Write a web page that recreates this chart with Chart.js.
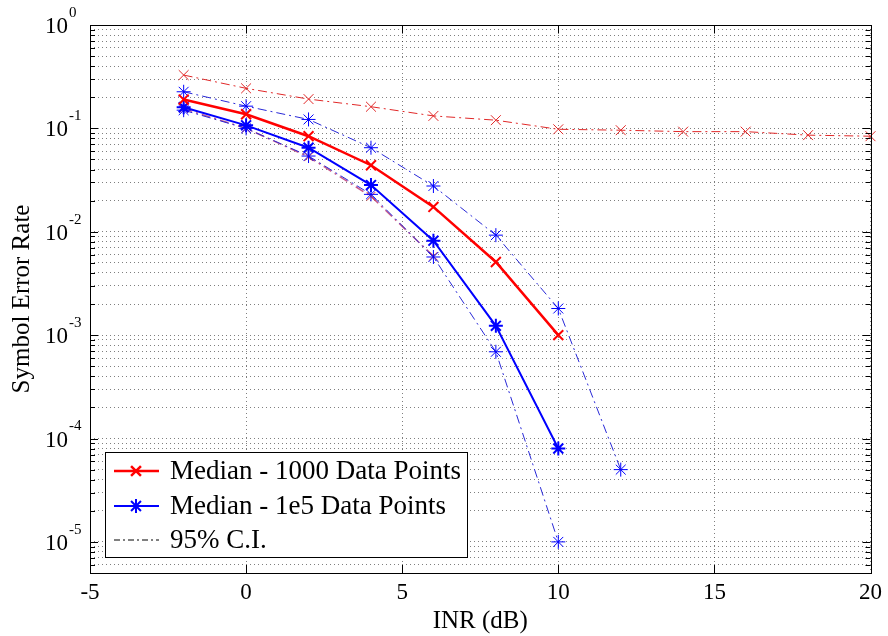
<!DOCTYPE html>
<html>
<head>
<meta charset="utf-8">
<script src="https://cdn.jsdelivr.net/npm/chart.js@4.4.0/dist/chart.umd.min.js"></script>
<style>
    html, body { margin: 0; padding: 0; background: #fff; }
    #wrap { width: 888px; height: 636px; }
</style>
</head>
<body>
<div id="wrap"><canvas id="serChart" width="888" height="636"></canvas></div>
<script>
// INR (dB) for each curve
const inrMedian = [-2, 0, 2, 4, 6, 8, 10]
const inrCi1000Upper = [-2, 0, 2, 4, 6, 8, 10, 12, 14, 16, 18, 20]
const inrCi1000Lower = [-2, 0, 2, 4, 6]
const inrCi1e5Upper = [-2, 0, 2, 4, 6, 8, 10, 12]
const inrCi1e5Lower = [-2, 0, 2, 4, 6, 8, 10]

// symbol error rate
const ser1000 = [0.19, 0.137, 0.084, 0.044, 0.0174, 0.0051, 0.001]
const ser1e5 = [0.16, 0.107, 0.065, 0.0283, 0.0082, 0.00123, 0.00008]
const ci1000Upper = [0.328, 0.244, 0.192, 0.162, 0.132, 0.12, 0.098, 0.096, 0.093, 0.093, 0.086, 0.084]
const ci1000Lower = [0.155, 0.1, 0.053, 0.022, 0.0058]
const ci1e5Upper = [0.226, 0.164, 0.122, 0.065, 0.0277, 0.00927, 0.00181, 0.00005]
const ci1e5Lower = [0.15, 0.1, 0.054, 0.023, 0.0057, 0.00069, 0.00001]

// axes
const xTickVals = [-5, 0, 5, 10, 15, 20]
const yDecades = [-5, -4, -3, -2, -1, 0]
const yMinorSteps = [2, 3, 4, 5, 6, 7, 8, 9]
const yMin = 5e-6
const yMax = 1

const legendLabels = ['Median - 1000 Data Points', 'Median - 1e5 Data Points', '95% C.I.']

const RED = 'rgb(255, 0, 0)'
const BLUE = 'rgb(0, 0, 255)'
const RED_CI = 'rgb(225, 40, 40)'
const BLUE_CI = 'rgb(40, 40, 215)'
const DASH_DOT = [9, 4, 2, 4]
const SERIF = '"Liberation Serif", "Times New Roman", serif'

const toPoints = (xs, ys) => xs.map((x, i) => ({ x: x, y: ys[i] }))

const buildYTicks = () => {
    const vals = []
    for (let p = -6; p <= 0; p++) {
        const base = Math.pow(10, p)
        if (base >= yMin && base <= yMax) vals.push({ value: base, major: true })
        if (p < 0) {
            yMinorSteps.forEach(m => {
                const v = m * base
                if (v >= yMin && v < yMax) vals.push({ value: v, major: false })
            })
        }
    }
    return vals.sort((a, b) => a.value - b.value)
}

const drawMarker = (ctx, style, x, y, r) => {
    const d = r * 0.7071
    ctx.beginPath()
    ctx.moveTo(x - d, y - d); ctx.lineTo(x + d, y + d)
    ctx.moveTo(x + d, y - d); ctx.lineTo(x - d, y + d)
    if (style === 'star') {
        ctx.moveTo(x - r, y); ctx.lineTo(x + r, y)
        ctx.moveTo(x, y - r); ctx.lineTo(x, y + r)
    }
    ctx.stroke()
}

const matlabFrame = {
    id: 'matlabFrame',
    afterDraw(chart) {
        const { ctx, chartArea: a, scales } = chart
        const xs = scales.x
        const ys = scales.y
        ctx.save()
        ctx.setLineDash([])
        ctx.strokeStyle = '#000'
        ctx.lineWidth = 1

        // inward tick marks on all four sides
        ctx.beginPath()
        xTickVals.forEach(v => {
            const px = Math.round(xs.getPixelForValue(v)) + 0.5
            ctx.moveTo(px, a.bottom); ctx.lineTo(px, a.bottom - 8)
            ctx.moveTo(px, a.top); ctx.lineTo(px, a.top + 8)
        })
        ys.ticks.forEach(t => {
            const py = Math.round(ys.getPixelForValue(t.value)) + 0.5
            const len = t.major ? 8 : 5
            ctx.moveTo(a.left, py); ctx.lineTo(a.left + len, py)
            ctx.moveTo(a.right, py); ctx.lineTo(a.right - len, py)
        })
        ctx.stroke()
        ctx.strokeRect(Math.round(a.left) + 0.5, Math.round(a.top) + 0.5,
            Math.round(a.right - a.left), Math.round(a.bottom - a.top))

        // y tick labels as 10 with superscript exponent
        ctx.fillStyle = '#000'
        ctx.textBaseline = 'middle'
        yDecades.forEach(p => {
            const py = ys.getPixelForValue(Math.pow(10, p))
            ctx.font = '23px ' + SERIF
            ctx.textAlign = 'right'
            ctx.fillText('10', 68, py + 2)
            ctx.font = '15px ' + SERIF
            ctx.textAlign = 'left'
            ctx.fillText(String(p), 69, py - 12)
        })

        // legend box
        const lx = 105, ly = 452, lw = 362, lh = 105
        ctx.fillStyle = '#fff'
        ctx.fillRect(lx, ly, lw, lh)
        ctx.strokeStyle = '#000'
        ctx.strokeRect(lx + 0.5, ly + 0.5, lw, lh)
        const rows = [
            { y: 471, color: RED, width: 2.5, dash: [], marker: 'crossRot' },
            { y: 506, color: BLUE, width: 2, dash: [], marker: 'star' },
            { y: 540, color: '#000', width: 1, dash: [6, 3, 2, 3], marker: null }
        ]
        rows.forEach((row, i) => {
            ctx.strokeStyle = row.color
            ctx.lineWidth = row.width
            ctx.setLineDash(row.dash)
            ctx.beginPath()
            ctx.moveTo(114, row.y); ctx.lineTo(159, row.y)
            ctx.stroke()
            ctx.setLineDash([])
            if (row.marker) drawMarker(ctx, row.marker, 136, row.y, 7)
            ctx.fillStyle = '#000'
            ctx.font = '27px ' + SERIF
            ctx.textAlign = 'left'
            ctx.textBaseline = 'middle'
            ctx.fillText(legendLabels[i], 170, row.y + 1)
        })
        ctx.restore()
    }
}

const ctx = document.getElementById('serChart').getContext('2d')
new Chart(ctx, {
    type: 'line',
    data: {
        datasets: [
            {
                label: legendLabels[0],
                data: toPoints(inrMedian, ser1000),
                borderColor: RED,
                borderWidth: 2.5,
                pointStyle: 'crossRot',
                pointRadius: 7,
                pointBorderWidth: 2,
                pointBorderColor: RED
            },
            {
                label: legendLabels[1],
                data: toPoints(inrMedian, ser1e5),
                borderColor: BLUE,
                borderWidth: 2,
                pointStyle: 'star',
                pointRadius: 7,
                pointBorderWidth: 2,
                pointBorderColor: BLUE
            },
            {
                label: 'CI upper 1e5',
                data: toPoints(inrCi1e5Upper, ci1e5Upper),
                borderColor: BLUE_CI,
                borderWidth: 1,
                borderDash: DASH_DOT,
                pointStyle: 'star',
                pointRadius: 7,
                pointBorderWidth: 1,
                pointBorderColor: BLUE
            },
            {
                label: 'CI lower 1e5',
                data: toPoints(inrCi1e5Lower, ci1e5Lower),
                borderColor: BLUE_CI,
                borderWidth: 1,
                borderDash: DASH_DOT,
                pointStyle: 'star',
                pointRadius: 7,
                pointBorderWidth: 1,
                pointBorderColor: BLUE
            },
            {
                label: 'CI upper 1000',
                data: toPoints(inrCi1000Upper, ci1000Upper),
                borderColor: RED_CI,
                borderWidth: 1,
                borderDash: DASH_DOT,
                pointStyle: 'crossRot',
                pointRadius: 7,
                pointBorderWidth: 1,
                pointBorderColor: RED_CI
            },
            {
                label: 'CI lower 1000',
                data: toPoints(inrCi1000Lower, ci1000Lower),
                borderColor: 'rgb(200, 90, 140)',
                borderWidth: 1.5,
                borderDash: DASH_DOT,
                pointStyle: 'crossRot',
                pointRadius: 6,
                pointBorderWidth: 1,
                pointBorderColor: RED_CI
            }
        ]
    },
    options: {
        responsive: false,
        animation: false,
        layout: { padding: { left: 0, right: 15, top: 25, bottom: 0 } },
        elements: {
            line: { tension: 0, fill: false },
            point: { backgroundColor: 'transparent', hoverRadius: 7 }
        },
        datasets: { line: { clip: false } },
        plugins: {
            legend: { display: false },
            tooltip: { enabled: false }
        },
        scales: {
            x: {
                type: 'linear',
                min: -5,
                max: 20,
                afterFit: (scale) => { scale.height = 63 },
                afterBuildTicks: (scale) => { scale.ticks = xTickVals.map(v => ({ value: v })) },
                ticks: {
                    color: '#000',
                    padding: 6,
                    font: { family: SERIF, size: 23 },
                    maxRotation: 0
                },
                grid: {
                    color: 'rgba(0, 0, 0, 0.5)',
                    lineWidth: 1,
                    drawTicks: false
                },
                border: { display: false, dash: [1, 3] },
                title: {
                    display: true,
                    text: 'INR (dB)',
                    color: '#000',
                    font: { family: SERIF, size: 25 },
                    padding: { top: 0, bottom: 0 }
                }
            },
            y: {
                type: 'logarithmic',
                min: yMin,
                max: yMax,
                afterFit: (scale) => { scale.width = 90 },
                afterBuildTicks: (scale) => { scale.ticks = buildYTicks() },
                ticks: { display: false },
                grid: {
                    color: 'rgba(0, 0, 0, 0.5)',
                    lineWidth: 1,
                    drawTicks: false
                },
                border: { display: false, dash: [1, 3] },
                title: {
                    display: true,
                    text: 'Symbol Error Rate',
                    color: '#000',
                    font: { family: SERIF, size: 25 },
                    padding: { top: 7, bottom: 7 }
                }
            }
        }
    },
    plugins: [matlabFrame]
})
</script>
</body>
</html>
